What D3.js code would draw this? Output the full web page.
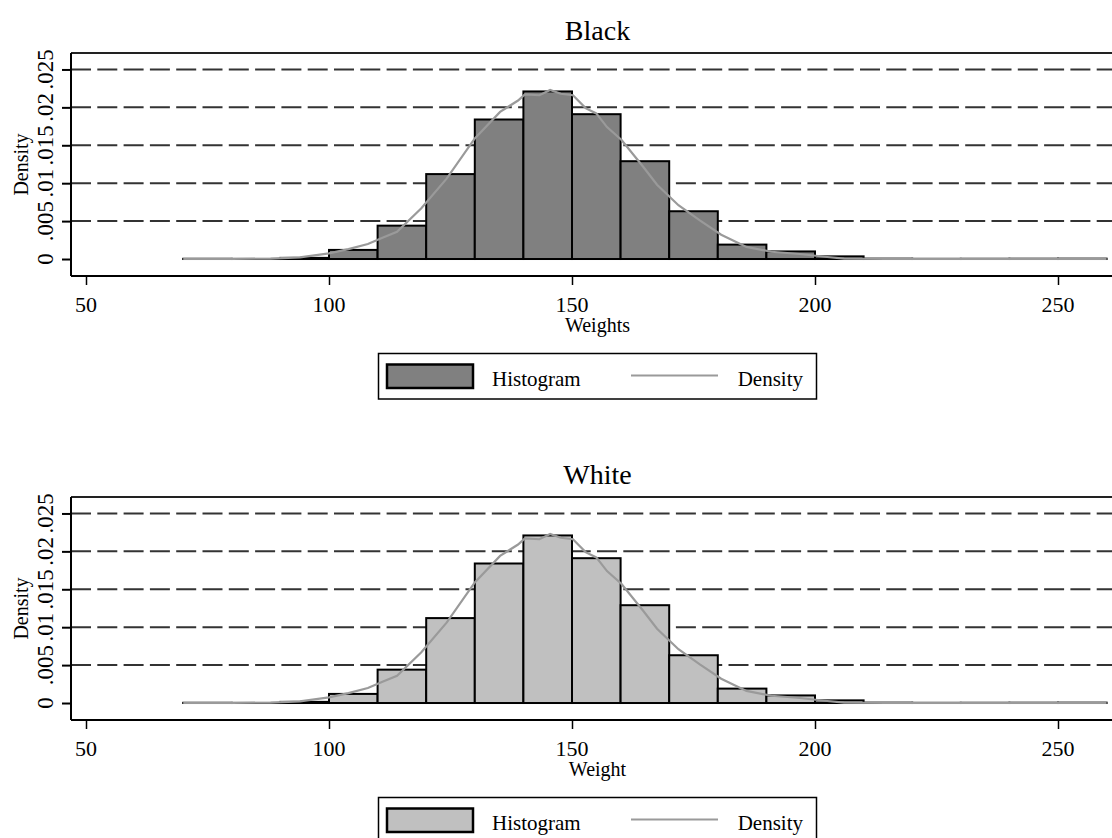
<!DOCTYPE html>
<html>
<head>
<meta charset="utf-8">
<script src="https://cdn.jsdelivr.net/npm/d3@7"></script>
<style>
    html, body { margin: 0; padding: 0; background: #fff; }
    svg { display: block; font-family: "Liberation Serif", "DejaVu Serif", serif; }
</style>
</head>
<body>
<div id="viz"></div>
<script>
// histogram bins (10 lb wide) and their density heights
const binEdges = [70, 80, 90, 100, 110, 120, 130, 140, 150, 160, 170, 180, 190, 200, 210, 220, 230, 240, 250, 260];
const binDensity = [0.00003, 0.00001, 0.00015, 0.0012, 0.0044, 0.0112, 0.0184, 0.0221, 0.0191, 0.0129,
    0.0063, 0.0019, 0.0010, 0.00035, 0.00005, 0.00002, 0.00003, 0.00004, 0.00005];

// kernel density curve
const curveWeight = [70, 80, 88, 94, 100, 104, 108, 111, 114, 119, 124.2, 130, 135.2, 138.9, 140.3, 143.3,
    145.5, 147.7, 150.2, 152.8, 155, 157.2, 160.2, 164.6, 167.5, 171.9, 176.3, 180.7, 185.9, 191,
    196.9, 202, 206, 215, 230, 245, 260];
const curveDensity = [0.00001, 0.00002, 0.00005, 0.00022, 0.00075, 0.0013, 0.00198, 0.0028, 0.0036, 0.0067,
    0.0106, 0.0159, 0.0194, 0.0209, 0.0217, 0.0216, 0.0223, 0.0218, 0.0216, 0.0199, 0.0192, 0.0174,
    0.0157, 0.0122, 0.0098, 0.0071, 0.0051, 0.0032, 0.0016, 0.00096, 0.00066, 0.0003, 0.00005,
    0.00002, 0.00001, 0.00001, 0.00001];

const xTicks = [50, 100, 150, 200, 250];
const yTicks = [0, 0.005, 0.01, 0.015, 0.02, 0.025];
const yTickLabels = ['0', '.005', '.01', '.015', '.02', '.025'];
const gridTicks = [0.005, 0.01, 0.015, 0.02, 0.025];

const panelTitles = ['Black', 'White'];
const panelAxisTitles = ['Weights', 'Weight'];
const panelFills = ['#808080', '#c0c0c0'];

const width = 1112,
    height = 838,
    panelOffset = 444;

const plot = { left: 71, right: 1124, top: 53, bottom: 276 };

let svg;

const x = d3.scaleLinear()
    .domain([50 - 15 / 4.86, 250 + 66 / 4.86])
    .range([plot.left, plot.right]);

const y = d3.scaleLinear()
    .domain([-0.00224, 0.02717])
    .range([plot.bottom, plot.top]);

function drawPanel(i) {
    const g = svg.append('g')
        .attr('transform', `translate(0, ${i * panelOffset})`);
    const mid = (plot.left + plot.right) / 2;

    g.append('text')
        .attr('x', mid)
        .attr('y', 40)
        .attr('text-anchor', 'middle')
        .style('font-size', '28px')
        .text(panelTitles[i]);

    // dashed grid lines
    g.append('g').selectAll('line')
        .data(gridTicks)
        .join('line')
        .attr('x1', plot.left)
        .attr('x2', plot.right)
        .attr('y1', d => y(d))
        .attr('y2', d => y(d))
        .attr('stroke', '#333')
        .attr('stroke-width', 2)
        .attr('stroke-dasharray', '20 6.3');

    const bins = binDensity.map((d, k) => ({ x0: binEdges[k], x1: binEdges[k + 1], d }));

    g.append('g').selectAll('rect')
        .data(bins)
        .join('rect')
        .attr('x', d => x(d.x0))
        .attr('width', d => x(d.x1) - x(d.x0))
        .attr('y', d => y(d.d))
        .attr('height', d => y(0) - y(d.d))
        .attr('fill', panelFills[i])
        .attr('stroke', '#000')
        .attr('stroke-width', 2);

    const line = d3.line()
        .x((d, k) => x(curveWeight[k]))
        .y(d => y(d));

    g.append('path')
        .datum(curveDensity)
        .attr('d', line)
        .attr('fill', 'none')
        .attr('stroke', '#9a9a9a')
        .attr('stroke-width', 2.2);

    // frame: top and left, axis lines
    g.append('line')
        .attr('x1', plot.left).attr('x2', plot.right)
        .attr('y1', plot.top).attr('y2', plot.top)
        .attr('stroke', '#222').attr('stroke-width', 2);

    const yAxis = g.append('g')
        .attr('transform', `translate(${plot.left},0)`)
        .call(d3.axisLeft(y).tickValues(yTicks).tickSize(9).tickFormat(''));
    yAxis.select('.domain').attr('d', `M0,${plot.top}V${plot.bottom}`).attr('stroke-width', 2);
    yAxis.selectAll('.tick line').attr('stroke-width', 2);

    g.append('g').selectAll('text')
        .data(yTicks)
        .join('text')
        .attr('transform', d => `translate(53, ${y(d)}) rotate(-90)`)
        .attr('text-anchor', 'middle')
        .style('font-size', '23px')
        .text((d, k) => yTickLabels[k]);

    g.append('text')
        .attr('transform', `translate(28, ${(plot.top + plot.bottom) / 2}) rotate(-90)`)
        .attr('text-anchor', 'middle')
        .style('font-size', '20px')
        .text('Density');

    const xAxis = g.append('g')
        .attr('transform', `translate(0,${plot.bottom})`)
        .call(d3.axisBottom(x).tickValues(xTicks).tickSize(9).tickFormat(''));
    xAxis.select('.domain').attr('d', `M${plot.left},0H${plot.right}`).attr('stroke-width', 2);
    xAxis.selectAll('.tick line').attr('stroke-width', 1.5);

    g.append('g').selectAll('text')
        .data(xTicks)
        .join('text')
        .attr('x', d => x(d))
        .attr('y', 312)
        .attr('text-anchor', 'middle')
        .style('font-size', '22px')
        .text(d => d);

    g.append('text')
        .attr('x', mid)
        .attr('y', 332)
        .attr('text-anchor', 'middle')
        .style('font-size', '20px')
        .text(panelAxisTitles[i]);

    drawLegend(g, i);
}

function drawLegend(g, i) {
    const lg = g.append('g');

    lg.append('rect')
        .attr('x', 378.5).attr('y', 353.5)
        .attr('width', 438).attr('height', 45.5)
        .attr('fill', '#fff')
        .attr('stroke', '#000')
        .attr('stroke-width', 1.5);

    lg.append('rect')
        .attr('x', 387).attr('y', 364.5)
        .attr('width', 86).attr('height', 23.5)
        .attr('fill', panelFills[i])
        .attr('stroke', '#000')
        .attr('stroke-width', 2.5);

    lg.append('text')
        .attr('x', 492).attr('y', 386)
        .style('font-size', '21px')
        .text('Histogram');

    lg.append('line')
        .attr('x1', 631).attr('x2', 718)
        .attr('y1', 375.5).attr('y2', 375.5)
        .attr('stroke', '#9a9a9a')
        .attr('stroke-width', 2.2);

    lg.append('text')
        .attr('x', 803).attr('y', 386)
        .attr('text-anchor', 'end')
        .style('font-size', '21px')
        .text('Density');
}

svg = d3.select('#viz').append('svg')
    .attr('width', width)
    .attr('height', height);

panelTitles.forEach((t, i) => drawPanel(i));
</script>
</body>
</html>
